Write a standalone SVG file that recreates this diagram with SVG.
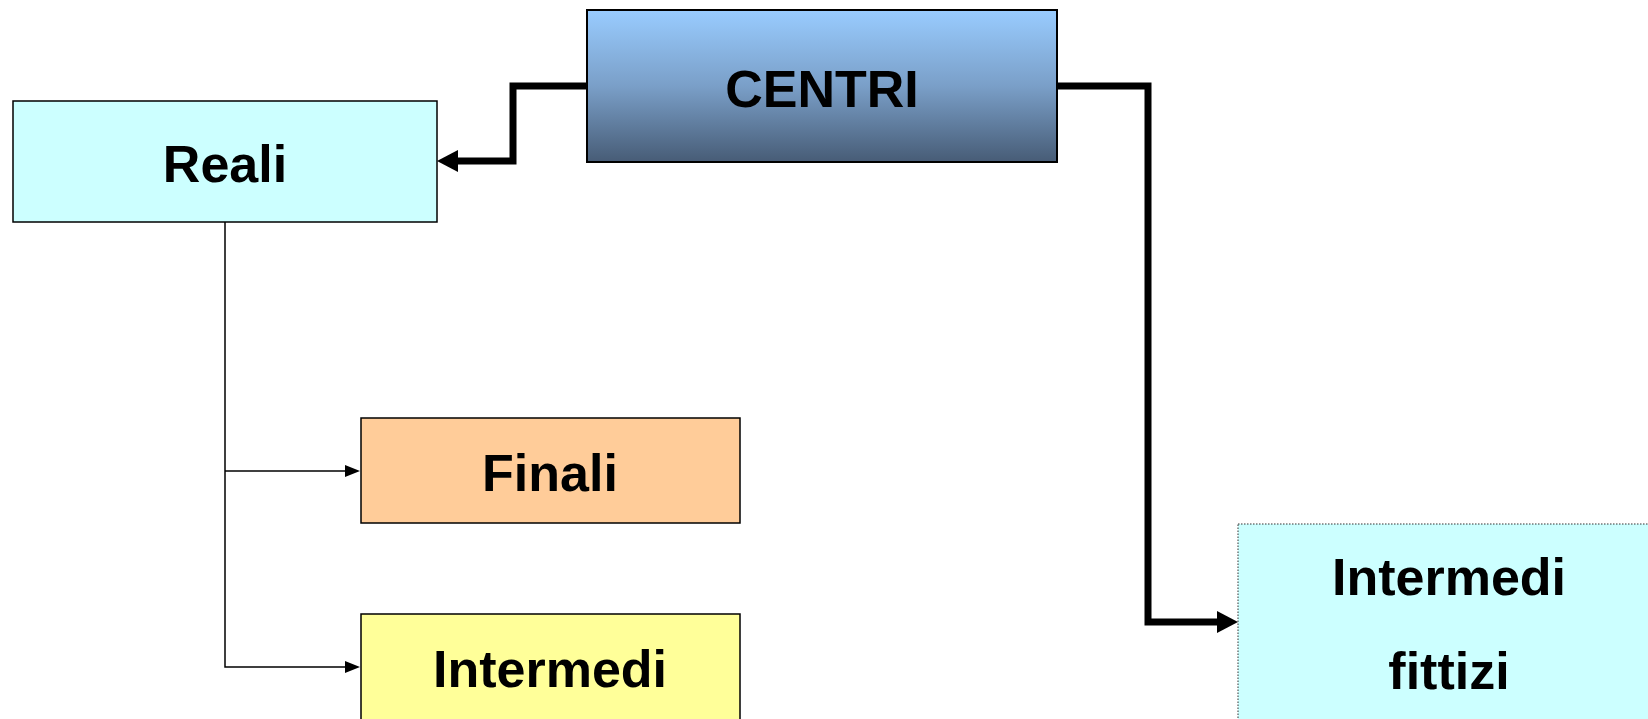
<svg xmlns="http://www.w3.org/2000/svg" width="1648" height="719" viewBox="0 0 1648 719">
  <defs>
    <linearGradient id="centriFill" x1="0" y1="0" x2="0" y2="1">
      <stop offset="0" stop-color="#99CCFF"/>
      <stop offset="0.5" stop-color="#7A9FC8"/>
      <stop offset="1" stop-color="#475C76"/>
    </linearGradient>
    <marker id="arrowThick" markerUnits="userSpaceOnUse" markerWidth="22" markerHeight="22" refX="0" refY="11" orient="auto" viewBox="0 0 22 22">
      <path d="M0,0 L21,11 L0,22 Z" fill="#000"/>
    </marker>
    <marker id="arrowThin" markerUnits="userSpaceOnUse" markerWidth="16" markerHeight="14" refX="0" refY="6" orient="auto" viewBox="0 0 16 12">
      <path d="M0,0 L15,6 L0,12 Z" fill="#000"/>
    </marker>
  </defs>
  <style>
    .box { stroke: #000; stroke-width: 1.5; }
    .label { font-family: "Liberation Sans", Arial, sans-serif; font-weight: bold; font-size: 52px; fill: #000; text-anchor: middle; }
    .thick { fill: none; stroke: #000; stroke-width: 7; stroke-linejoin: miter; }
    .thin { fill: none; stroke: #000; stroke-width: 1.5; }
  </style>

  <g id="connectors">
    <path class="thick" d="M586,86 H513 V161 H458" marker-end="url(#arrowThick)"/>
    <path class="thick" d="M1057,86 H1148 V622 H1217" marker-end="url(#arrowThick)"/>
    <path class="thin" d="M225,222 V667 H345" marker-end="url(#arrowThin)"/>
    <path class="thin" d="M225,471 H345" marker-end="url(#arrowThin)"/>
  </g>

  <g id="centri">
    <rect x="587" y="10" width="470" height="152" fill="url(#centriFill)" stroke="#000" stroke-width="2"/>
    <text class="label" x="822" y="107">CENTRI</text>
  </g>

  <g id="reali">
    <rect class="box" x="13" y="101" width="424" height="121" fill="#CCFFFF"/>
    <text class="label" x="225" y="182">Reali</text>
  </g>

  <g id="finali">
    <rect class="box" x="361" y="418" width="379" height="105" fill="#FFCC99"/>
    <text class="label" x="550" y="491">Finali</text>
  </g>

  <g id="intermedi">
    <rect class="box" x="361" y="614" width="379" height="120" fill="#FFFF99"/>
    <text class="label" x="550" y="687">Intermedi</text>
  </g>

  <g id="intermedi-fittizi">
    <rect x="1238" y="524" width="430" height="210" fill="#CCFFFF" stroke="#333" stroke-width="1" stroke-dasharray="1.5 1.5"/>
    <text class="label" x="1449" y="595">Intermedi</text>
    <text class="label" x="1449" y="689">fittizi</text>
  </g>
</svg>
